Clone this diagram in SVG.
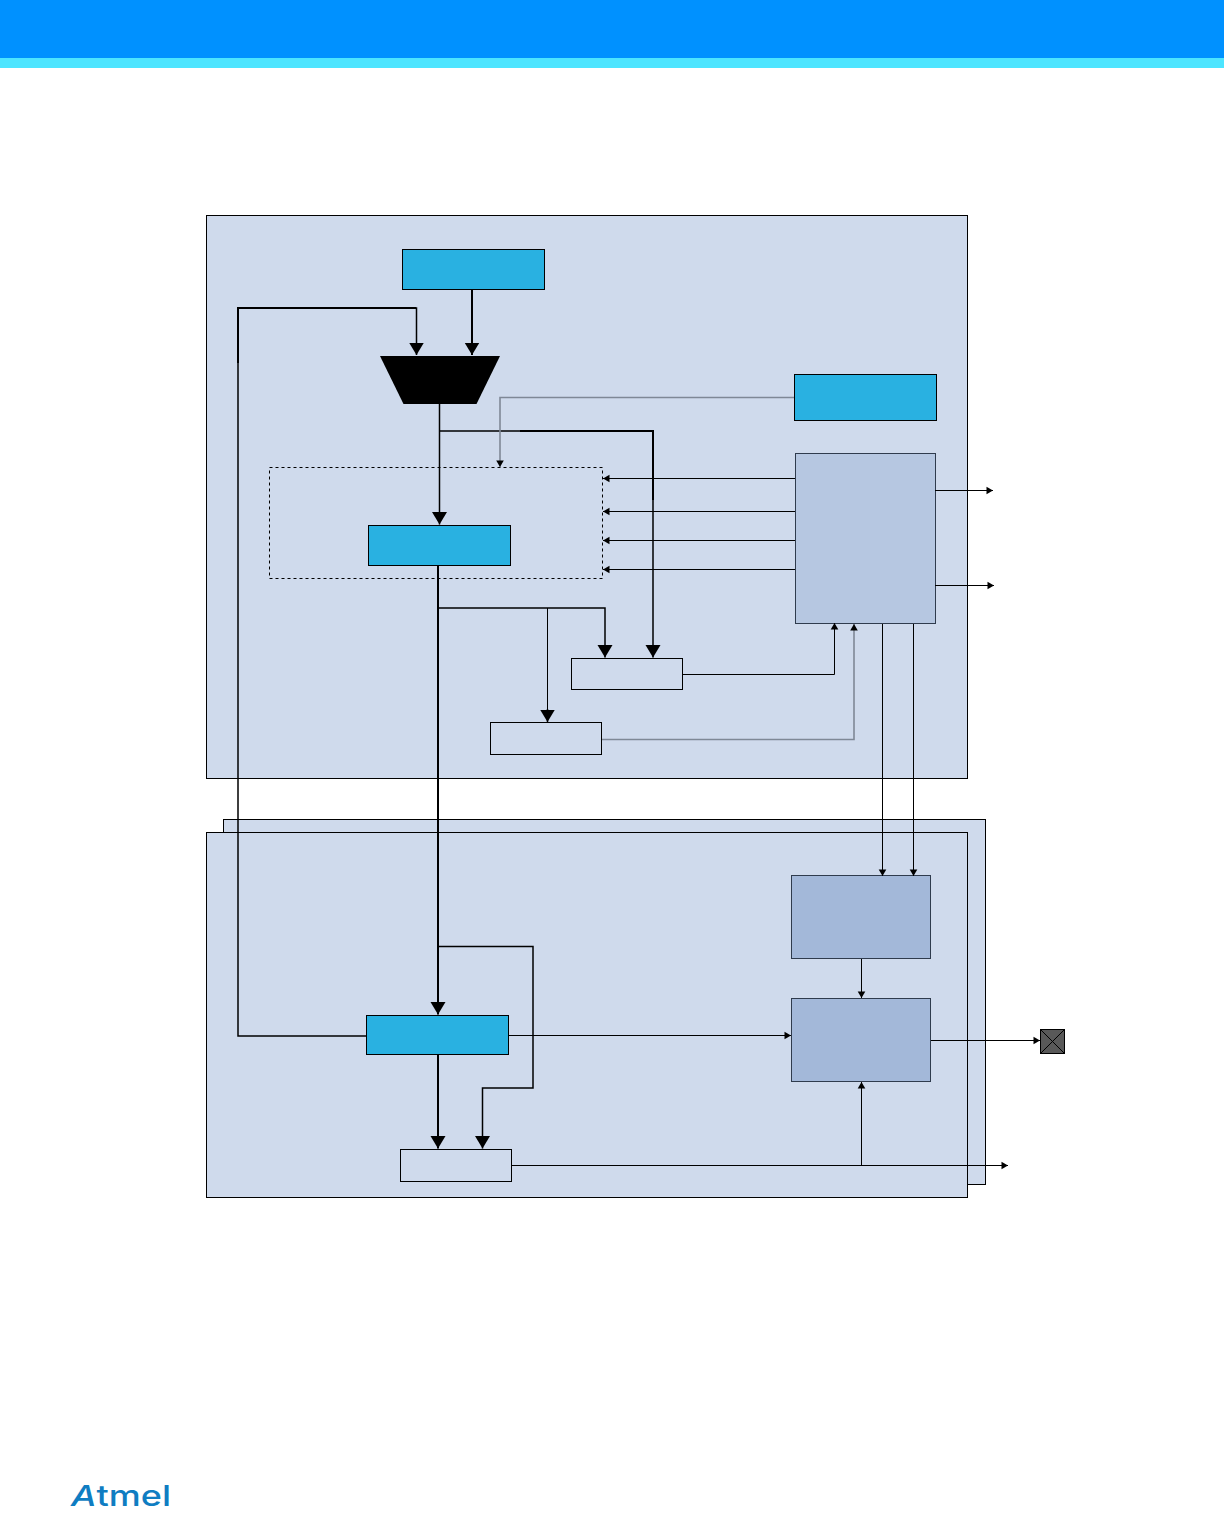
<svg xmlns="http://www.w3.org/2000/svg" width="1224" height="1513" viewBox="0 0 1224 1513">
<style>
.panel{fill:#cfdaec;stroke:#000;stroke-width:1}
.blue{fill:#29b1e1;stroke:#000;stroke-width:1}
.plain{fill:#cfdaec;stroke:#000;stroke-width:1}
.block1{fill:#b6c7e1;stroke:#2f3b4d;stroke-width:1}
.block2{fill:#a3b8d9;stroke:#2f3b4d;stroke-width:1}
.c{fill:none;stroke:#000}
.t1{stroke-width:1;marker-end:url(#small)}
.t1n{stroke-width:1}
.t2{stroke-width:2;marker-end:url(#big)}
.t15{stroke-width:1.5;marker-end:url(#big)}
.t2n{stroke-width:2}
.g{stroke:#7f8896;stroke-width:1.6;marker-end:url(#small)}
</style>
<defs>
<marker id="small" markerUnits="userSpaceOnUse" markerWidth="8" markerHeight="9" refX="7" refY="4.500" orient="auto"><path d="M0.500 0.700L7 4.500L0.500 8.300Z" fill="#000"/></marker>
<marker id="big" markerUnits="userSpaceOnUse" markerWidth="14" markerHeight="16" refX="12.500" refY="8" orient="auto"><path d="M0 0.500L12.500 8L0 15.500Z" fill="#000"/></marker>
</defs>
<rect width="1224" height="1513" fill="#fff"/>
<g id="header">
<rect x="0" y="0" width="1224" height="58" fill="#0091ff"/>
<rect x="0" y="58" width="1224" height="10" fill="#4de5ff"/>
</g>
<g id="panel-top"><rect class="panel" x="206.500" y="215.500" width="761" height="563"/></g>
<g id="panel-back"><rect class="panel" x="223.500" y="819.500" width="762" height="365"/></g>
<g id="panel-front"><rect class="panel" x="206.500" y="832.500" width="761" height="365"/></g>
<g id="node-source"><rect class="blue" x="402.500" y="249.500" width="142" height="40"/></g>
<g id="node-mux"><path d="M380 356H500L476.500 404H403.500Z" fill="#000"/></g>
<g id="node-control"><rect class="blue" x="794.500" y="374.500" width="142" height="46"/></g>
<g id="node-dashed"><rect x="269.500" y="467.500" width="333" height="111" fill="none" stroke="#000" stroke-width="1" stroke-dasharray="3 3"/></g>
<g id="node-counter"><rect class="blue" x="368.500" y="525.500" width="142" height="40"/></g>
<g id="node-logic"><rect class="block1" x="795.500" y="453.500" width="140" height="170"/></g>
<g id="node-compare-a"><rect class="plain" x="571.500" y="658.500" width="111" height="31"/></g>
<g id="node-compare-b"><rect class="plain" x="490.500" y="722.500" width="111" height="32"/></g>
<g id="node-generator"><rect class="block2" x="791.500" y="875.500" width="139" height="83"/></g>
<g id="node-output"><rect class="block2" x="791.500" y="998.500" width="139" height="83"/></g>
<g id="node-channel"><rect class="blue" x="366.500" y="1015.500" width="142" height="39"/></g>
<g id="node-compare-c"><rect class="plain" x="400.500" y="1149.500" width="111" height="32"/></g>
<g id="node-pin"><rect x="1040.500" y="1029.500" width="24" height="24" fill="#595959" stroke="#000" stroke-width="1"/><path d="M1040.500 1029.500L1064.500 1053.500M1064.500 1029.500L1040.500 1053.500" stroke="#000" stroke-width="1" fill="none"/></g>
<g id="connectors">
<path class="c t15" d="M366 1036H238V308H416.500V355"/>
<path class="c t2n" d="M238 363V308H416"/>
<path class="c t2" d="M472 290V355"/>
<path class="c t15" d="M439.500 404V524.500"/>
<path class="c t15" d="M439.500 431H653V657.500"/>
<path class="c t2n" d="M520 431H653V500"/>
<path class="c g" d="M794 397.500H500V467"/>
<path class="c t1" d="M795 478.500H603"/>
<path class="c t1" d="M795 511.500H603"/>
<path class="c t1" d="M795 540.500H603"/>
<path class="c t1" d="M795 569.500H603"/>
<path class="c t1" d="M935 490.500H993"/>
<path class="c t1" d="M935 585.500H994"/>
<path class="c t1" d="M882.500 624V876"/>
<path class="c t1" d="M913.500 624V876"/>
<path class="c t1" d="M683 674.500H834.500V623"/>
<path class="c g" d="M602 739.500H854V624"/>
<path class="c t2" d="M438 566V1014.500"/>
<path class="c t15" d="M438 608H605V657.500"/>
<path class="c t1n" d="M547.500 608V710"/>
<path class="c t15" d="M547.500 709V722"/>
<path class="c t15" d="M438 946.500H533V1088H482.500V1148.500"/>
<path class="c t2" d="M438 1055V1148.500"/>
<path class="c t1" d="M509 1035.500H791"/>
<path class="c t1" d="M512 1165.500H1008"/>
<path class="c t1" d="M861.500 1165V1082"/>
<path class="c t1" d="M861.500 959V998"/>
<path class="c t1" d="M931 1040.500H1040"/>
</g>
<g id="logo"><text x="71" y="1506" font-family="Inter, 'Noto Sans', sans-serif" font-size="29" font-weight="500" fill="#0f7dc2" textLength="100" lengthAdjust="spacingAndGlyphs"><tspan font-style="italic">A</tspan>tmel</text></g>
</svg>
